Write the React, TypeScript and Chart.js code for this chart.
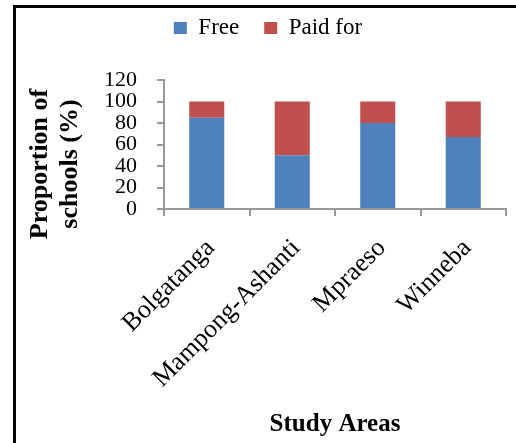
import React, { useEffect, useRef } from 'react';
import { Chart, registerables } from 'chart.js';

Chart.register(...registerables);

const categories = ['Bolgatanga', 'Mampong-Ashanti', 'Mpraeso', 'Winneba'];
const freeValues = [85, 50, 80, 67];
const paidValues = [15, 50, 20, 33];
const seriesNames = ['Free', 'Paid for'];
const yMin = 0;
const yMax = 120;
const yStep = 20;
const yTitleLines = ['Proportion of', 'schools (%)'];
const xTitle = 'Study Areas';

const FONT = "'Liberation Serif', 'Times New Roman', serif";
const AXIS_COLOR = '#9a9a9a';

const yTitlePlugin = {
  id: 'yTitleLines',
  afterDraw(chart: any) {
    const ctx = chart.ctx;
    const area = chart.chartArea;
    ctx.save();
    ctx.font = `bold 26px ${FONT}`;
    ctx.fillStyle = '#000';
    ctx.textAlign = 'center';
    ctx.textBaseline = 'alphabetic';
    const cy = area.top + 84;
    yTitleLines.forEach((line, i) => {
      ctx.save();
      ctx.translate(47 + i * 30, cy);
      ctx.rotate(-Math.PI / 2);
      ctx.fillText(line, 0, 0);
      ctx.restore();
    });
    ctx.restore();
  },
};

const legendHeightPlugin = {
  id: 'legendHeight',
  beforeInit(chart: any) {
    const legend = chart.legend;
    if (!legend) return;
    const orig = legend.fit;
    legend.fit = function () {
      orig.call(this);
      this.height = 88.5;
    };
  },
};

export default function App() {
  const canvasRef = useRef<HTMLCanvasElement | null>(null);

  useEffect(() => {
    if (!canvasRef.current) return;
    const chart = new Chart(canvasRef.current, {
      type: 'bar',
      data: {
        labels: categories,
        datasets: [
          {
            label: seriesNames[0],
            data: freeValues,
            backgroundColor: '#4F81BD',
            categoryPercentage: 0.41,
            barPercentage: 1,
          },
          {
            label: seriesNames[1],
            data: paidValues,
            backgroundColor: '#C0504D',
            categoryPercentage: 0.41,
            barPercentage: 1,
          },
        ],
      },
      options: {
        responsive: false,
        animation: false,
        layout: { padding: { top: -8.5, left: 30, right: 10, bottom: 0 } },
        plugins: {
          tooltip: { enabled: false },
          legend: {
            display: true,
            position: 'top',
            labels: {
              boxWidth: 13,
              boxHeight: 12,
              padding: 25,
              color: '#000',
              font: { family: FONT, size: 23 },
            },
          },
        },
        scales: {
          x: {
            stacked: true,
            afterFit(scale: any) {
              scale.height = 234;
            },
            grid: {
              offset: true,
              drawOnChartArea: false,
              drawTicks: true,
              tickLength: 7,
              color: AXIS_COLOR,
              lineWidth: 2,
            },
            border: { display: true, color: AXIS_COLOR, width: 2 },
            ticks: {
              autoSkip: false,
              minRotation: 45,
              maxRotation: 45,
              padding: 17,
              labelOffset: 4,
              color: '#000',
              font: { family: FONT, size: 26 },
            },
            title: {
              display: true,
              text: xTitle,
              color: '#000',
              font: { family: FONT, size: 25, weight: 'bold' },
              padding: { top: 4, bottom: 3 },
            },
          },
          y: {
            stacked: true,
            min: yMin,
            max: yMax,
            afterFit(scale: any) {
              scale.width = 134;
            },
            grid: {
              drawOnChartArea: false,
              drawTicks: true,
              tickLength: 7,
              color: AXIS_COLOR,
              lineWidth: 2,
            },
            border: { display: true, color: AXIS_COLOR, width: 2 },
            ticks: {
              stepSize: yStep,
              autoSkip: false,
              padding: 20,
              color: '#000',
              font: { family: FONT, size: 22 },
            },
          },
        },
      },
      plugins: [yTitlePlugin, legendHeightPlugin],
    } as any);
    return () => chart.destroy();
  }, []);

  return (
    <div style={{ position: 'fixed', left: 0, top: 0, width: 516, height: 443, overflow: 'hidden', background: '#fff' }}>
      <div
        style={{
          position: 'absolute',
          left: 13,
          top: 5,
          right: -10,
          bottom: -10,
          borderLeft: '3px solid #000',
          borderTop: '3px solid #000',
        }}
      />
      <canvas ref={canvasRef} width={516} height={443} style={{ position: 'absolute', left: 0, top: 0, display: 'block' }} />
    </div>
  );
}
